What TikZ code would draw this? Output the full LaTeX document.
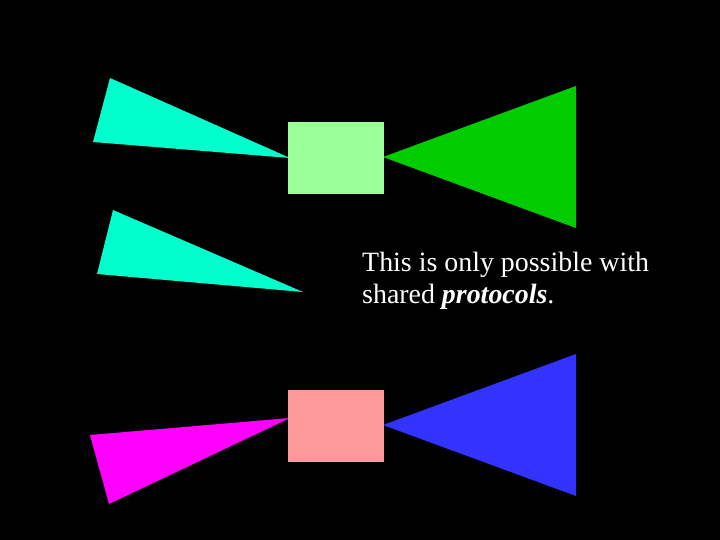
\documentclass[tikz,border=0pt]{standalone}
\usepackage{fontspec}
\setmainfont{Liberation Serif}
\definecolor{cyanT}{RGB}{0,255,204}
\definecolor{lgreen}{RGB}{153,255,153}
\definecolor{dgreen}{RGB}{0,204,0}
\definecolor{magT}{RGB}{255,0,255}
\definecolor{pinkR}{RGB}{255,153,153}
\definecolor{blueT}{RGB}{51,51,255}
\begin{document}
\begin{tikzpicture}[x=1pt,y=-1pt]
\fill[black] (0,0) rectangle (720,540);
\useasboundingbox (0,0) rectangle (720,540);
% top group
\fill[cyanT] (110,78) -- (93,142) -- (290,158) -- cycle;
\fill[dgreen] (576,86) -- (576,228) -- (383,157) -- cycle;
\fill[lgreen] (288,122) rectangle (384,194);
% middle triangle
\fill[cyanT] (113,210) -- (97,274) -- (303,292) -- cycle;
% bottom group
\fill[magT] (90,435) -- (109,504) -- (290,418) -- cycle;
\fill[blueT] (576,354) -- (576,496) -- (383,425) -- cycle;
\fill[pinkR] (288,390) rectangle (384,462);
% text
\node[anchor=base west, inner sep=0pt, text=white, align=left,
  font=\fontsize{27.9}{32}\selectfont] (txt) at (362,303)
  {This is only possible with\\shared \textbf{\textit{protocols}}.};
\end{tikzpicture}
\end{document}
